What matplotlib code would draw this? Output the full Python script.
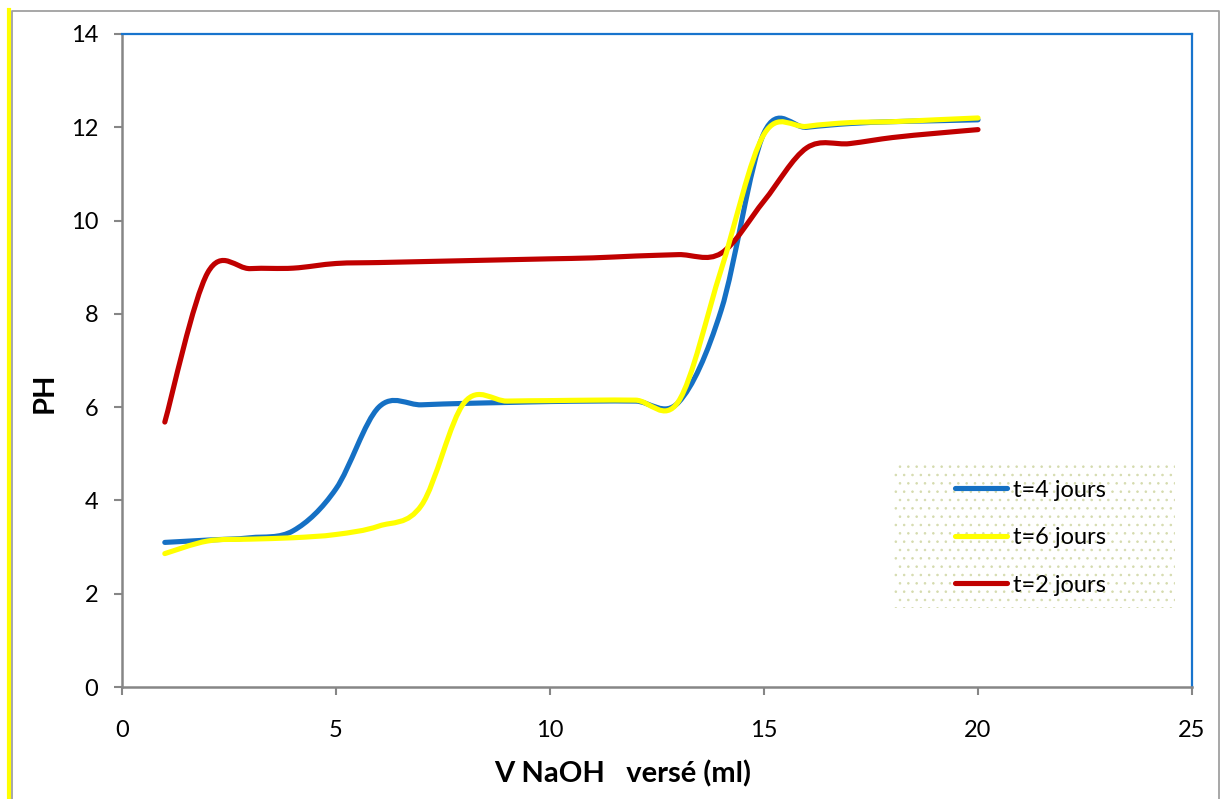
import numpy as np
import matplotlib
matplotlib.use("Agg")
import matplotlib.pyplot as plt
from matplotlib.path import Path
from matplotlib.patches import PathPatch, Rectangle
from matplotlib.lines import Line2D

# NaOH volume added (ml)
volume = [1, 2, 3, 4, 5, 6, 7, 8, 9, 10, 11, 12, 13, 14, 15, 16, 17, 18, 19, 20]

# pH readings for each ageing time
ph_4_jours = [3.10, 3.15, 3.20, 3.35, 4.25, 6.00, 6.05, 6.08, 6.10, 6.12,
              6.13, 6.13, 6.10, 8.08, 11.88, 12.00, 12.08, 12.12, 12.14, 12.16]
ph_6_jours = [2.86, 3.13, 3.17, 3.20, 3.27, 3.45, 3.90, 6.10, 6.13, 6.14,
              6.15, 6.15, 6.12, 8.95, 11.85, 12.02, 12.10, 12.12, 12.16, 12.20]
ph_2_jours = [5.68, 8.88, 8.97, 8.98, 9.08, 9.10, 9.12, 9.14, 9.16, 9.18,
              9.20, 9.24, 9.27, 9.30, 10.42, 11.56, 11.65, 11.78, 11.87, 11.95]

series = [
    ("t=4 jours", ph_4_jours, "#1570C4", 2),
    ("t=6 jours", ph_6_jours, "#FFFF00", 4),
    ("t=2 jours", ph_2_jours, "#C00000", 3),
]

x_ticks = [0, 5, 10, 15, 20, 25]
y_ticks = [0, 2, 4, 6, 8, 10, 12, 14]

plt.rcParams["hatch.linewidth"] = 0.6


def smooth_path(xs, ys):
    """Cubic Bezier path through the points (spreadsheet-style smoothed line)."""
    p = np.column_stack([xs, ys]).astype(float)
    n = len(p)
    verts = [p[0]]
    codes = [Path.MOVETO]
    for i in range(n - 1):
        p0 = p[i - 1] if i > 0 else p[i]
        p1 = p[i]
        p2 = p[i + 1]
        p3 = p[i + 2] if i + 2 < n else p[i + 1]
        c1 = p1 + (p2 - p0) / 6.0
        c2 = p2 - (p3 - p1) / 6.0
        verts += [c1, c2, p2]
        codes += [Path.CURVE4] * 3
    return Path(verts, codes)


W, H = 1221, 799
fig = plt.figure(figsize=(W / 100, H / 100), dpi=100)
fig.patch.set_facecolor("white")

L, R, T, B = 122, 1192, 34, 687
ax = fig.add_axes([L / W, (H - B) / H, (R - L) / W, (B - T) / H])
ax.set_xlim(0, 25)
ax.set_ylim(0, 14)
ax.set_xticks(x_ticks)
ax.set_yticks(y_ticks)


def ax_x(px):
    return (px - L) / (R - L)


def ax_y(py):
    return (B - py) / (B - T)


font = "Lato"
for lab, ys, col, z in series:
    ax.add_patch(PathPatch(smooth_path(volume, ys), facecolor="none",
                           edgecolor=col, lw=3.7, capstyle="round",
                           joinstyle="round", zorder=z))

# spines: grey axis lines, blue plot-area border
for side in ("left", "bottom"):
    ax.spines[side].set_color("#868686")
    ax.spines[side].set_linewidth(1.8)
for side in ("top", "right"):
    ax.spines[side].set_color("#1874CD")
    ax.spines[side].set_linewidth(1.6)

ax.tick_params(axis="both", direction="out", length=6, width=1.5,
               color="#868686", labelsize=17, labelcolor="black")
ax.tick_params(axis="y", pad=11)
ax.tick_params(axis="x", pad=18)
for t in ax.get_xticklabels() + ax.get_yticklabels():
    t.set_fontfamily(font)

ax.set_xlabel("V NaOH   versé (ml)", fontfamily=font, fontweight="bold",
              fontsize=21)
ax.xaxis.label.set_verticalalignment("center")
ax.xaxis.set_label_coords(ax_x(623), ax_y(774))
ax.set_ylabel("PH", fontfamily=font, fontweight="bold", fontsize=21)
ax.yaxis.label.set_verticalalignment("center")
ax.yaxis.label.set_horizontalalignment("center")
ax.yaxis.set_label_coords(ax_x(45), ax_y(393))

# legend box with dotted fill
leg_bg = Rectangle((ax_x(893), ax_y(608)), ax_x(1175) - ax_x(893),
                   ax_y(463) - ax_y(608), transform=ax.transAxes,
                   facecolor="white", edgecolor="#D5DBAE", hatch="..",
                   linewidth=0, zorder=5)
ax.add_patch(leg_bg)
handles = [Line2D([0], [0], color=c, lw=3.7, solid_capstyle="round")
           for _, _, c, _ in series]
leg = ax.legend(handles, [s[0] for s in series], loc="upper left",
                bbox_to_anchor=(ax_x(950), ax_y(475)),
                frameon=False, prop={"family": font, "size": 17},
                handlelength=2.2, handletextpad=0.25, labelspacing=1.12,
                borderpad=0.2, borderaxespad=0)
leg.set_zorder(6)

# outer chart frame
fig.add_artist(Line2D([9.4 / W, 9.4 / W], [0, 1 - 10 / H], transform=fig.transFigure,
                      color="#FFFF00", lw=3.0))
fig.add_artist(Line2D([12 / W, 12 / W, 1219 / W, 1219 / W],
                      [0, 1 - 11 / H, 1 - 11 / H, 0], transform=fig.transFigure,
                      color="#A0A0A0", lw=1.3))

fig.savefig("out.png", dpi=100, facecolor="white")
